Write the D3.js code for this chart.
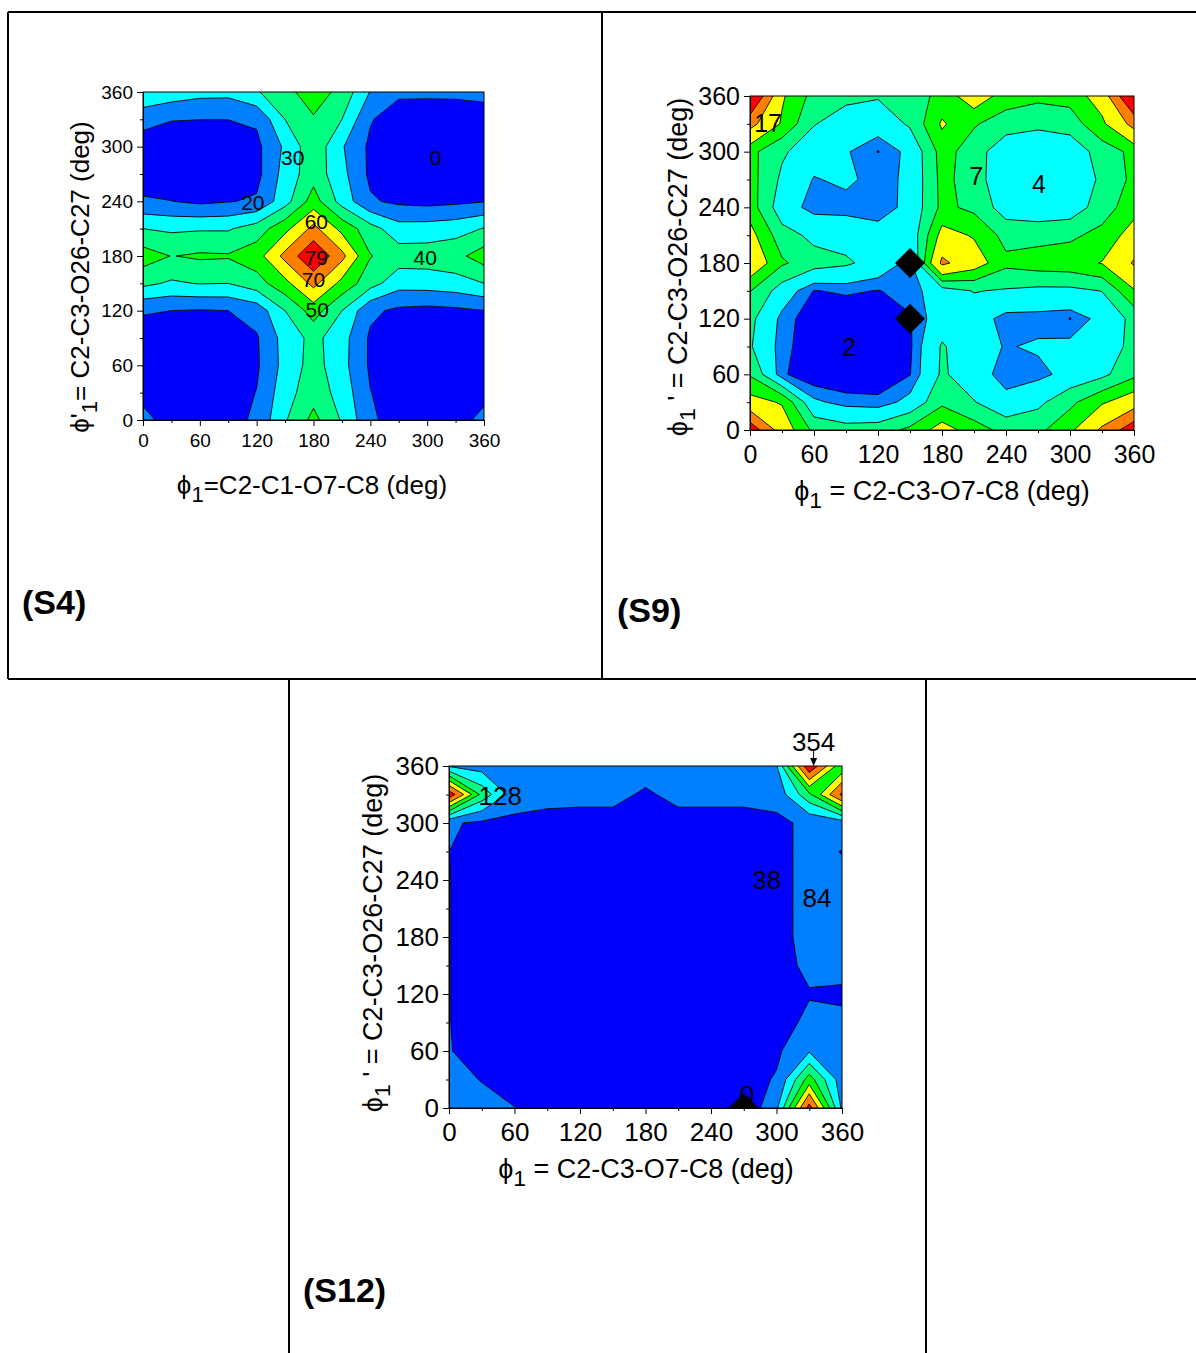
<!DOCTYPE html>
<html>
<head>
<meta charset="utf-8">
<script src="https://cdn.jsdelivr.net/npm/d3@7"></script>
<style>
  body { margin: 0; background: #fff; }
  svg { display: block; font-family: "Liberation Sans", Arial, sans-serif; }
</style>
</head>
<body>
<svg id="page" width="1196" height="1353"></svg>
<script>
//#region DATA /////////////////////////////////////////////////////////////////

// scan grid of both torsions (deg), and the axis ticks
const ANGLES = [0, 30, 60, 90, 120, 150, 180, 210, 240, 270, 300, 330, 360];
const MAJOR_TICKS = [0, 60, 120, 180, 240, 300, 360];
const MINOR_TICKS = [30, 90, 150, 210, 270, 330];

// fill colours, lowest band first (Origin rainbow)
const BAND_COLORS = ["#0000ff", "#0080ff", "#00ffff", "#00ff80",
                     "#00ff00", "#ffff00", "#ff8000", "#ff0000"];

/* Energy grids. One row per phi1' value, top row is 360,
 * bottom row is 0; columns are phi1 = 0..360. */
const S4_LEVELS = [10, 20, 30, 40, 50, 60, 70];
const S4_ROWS = [
  [27.6, 25.5, 23, 22.7, 29, 37, 45, 37, 19.5, 12, 12, 12, 13],
  [14.2, 10.5, 10.1, 10.1, 11.5, 30, 39, 30, 10.8, 4.5, 4, 4.5, 5],
  [4, 3, 3.5, 4.5, 7.5, 21.8, 37, 21, 8, 3, 0.5, 2.5, 4],
  [4, 3, 3, 4, 7, 24, 36, 23, 8, 3, 2, 3, 4],
  [11.5, 10.2, 8, 9.5, 11.2, 26, 44.6, 26, 11.2, 8, 7, 8, 9.5],
  [30, 28.3, 29, 29, 34.7, 47, 63, 47, 34, 24, 24.5, 26, 30.5],
  [45, 39.7, 41.5, 41, 45.8, 63, 79, 63, 40.5, 35, 35, 37, 45],
  [32.5, 28.6, 30.5, 30, 35.7, 47, 63, 47, 34, 24, 24.5, 26, 30],
  [11, 10, 9.3, 10, 14, 30, 44.6, 30, 12, 8, 7, 8, 9.8],
  [5, 4, 4, 4, 9, 24, 33, 24, 8.5, 3, 2.5, 3.5, 5],
  [5, 4, 3, 4, 8.5, 23.5, 34, 23.5, 8.5, 3, 2, 3, 5],
  [7, 5, 4, 5, 10.3, 26, 36, 26, 10.3, 4, 3, 4, 7],
  [13, 6, 6, 6, 12, 29, 43, 29, 12, 5, 5, 6, 13]
];
const S4_LABELS = [["30", 158, 288], ["0", 309, 288], ["20", 116, 239],
                   ["60", 183, 218], ["79", 183, 178], ["70", 180, 154],
                   ["40", 298, 178], ["50", 184, 121]];

const S9_LEVELS = [3, 4, 6, 8, 10, 13, 16];
const S9_ROWS = [
  [20, 10.3, 7.3, 6.5, 6.2, 7, 8.6, 11.5, 9, 8.5, 8.7, 11.2, 20],
  [14, 9.7, 6.1, 5, 4.6, 6.3, 10.3, 8.2, 7, 6.5, 7, 9.5, 14],
  [8.6, 6.3, 4.8, 4.1, 3.3, 4.3, 8.8, 7, 4.5, 4.2, 4.5, 7, 8.5],
  [8.8, 5.6, 3.9, 4.3, 3.5, 4.3, 8.6, 7, 4.3, 4.1, 4.3, 6.4, 8.5],
  [9, 4.8, 3.5, 3.5, 3.4, 4.4, 8.5, 7.5, 5.0, 4.6, 4.8, 7, 9.2],
  [10.8, 6.8, 5.5, 5.2, 4.6, 4.5, 10.8, 9.8, 7.3, 7.3, 7.6, 8.6, 11],
  [12, 8.3, 6.8, 6.3, 5.2, 3.5, 13.6, 11.2, 8.5, 9, 9.2, 10.1, 13.3],
  [8.1, 5.0, 2.95, 3.2, 2.95, 3.4, 5.0, 6.1, 5.8, 5.5, 5.5, 6.05, 9.8],
  [6.5, 3.6, 2.2, 2.0, 2.2, 2.9, 5.0, 4.8, 3.5, 3.5, 3.3, 4.4, 6.6],
  [6.2, 3.4, 2.2, 1.8, 2.0, 2.8, 6.2, 4.7, 3.9, 4.2, 4.3, 5.0, 6.5],
  [7.8, 3.2, 2.1, 2.0, 2.2, 2.95, 6.3, 4.8, 3.4, 3.6, 4.5, 5.5, 7.5],
  [10.8, 9.8, 4.3, 3.5, 3.3, 4.5, 7.5, 6.1, 4.5, 5.5, 7.5, 9.7, 11.5],
  [18, 11.5, 7.5, 6.8, 7.0, 8.5, 11, 9, 7.3, 7.5, 9.5, 13.5, 18]
];
const S9_LABELS = [["17", 17, 331], ["7", 212, 274], ["4", 271, 265],
                   ["2", 93, 89]];
// conformers found on the map: big diamonds, and single points
const S9_DIAMONDS = [[150, 180], [150, 120]];
const S9_POINTS = [[120, 300], [300, 120]];

const S12_LEVELS = [38, 84, 128, 170, 215, 260, 310];
const S12_ROWS = [
  [80, 65, 55, 50, 50, 50, 50, 50, 50, 50, 80, 354, 180],
  [344, 157, 60, 48, 46, 46, 34, 46, 46, 46, 55, 160, 320],
  [44, 30, 28, 28, 28, 28, 28, 28, 28, 28, 28, 48, 60],
  [38.2, 22, 18, 15, 15, 15, 15, 15, 15, 18, 28, 48, 37],
  [39, 20, 15, 12, 12, 12, 12, 12, 12, 15, 28, 48, 45],
  [39, 20, 15, 12, 10, 10, 10, 10, 12, 15, 28, 48, 45],
  [39, 20, 15, 12, 10, 10, 10, 10, 12, 15, 28, 48, 45],
  [39, 20, 15, 12, 10, 10, 10, 10, 12, 15, 26, 45, 48],
  [39, 20, 15, 12, 10, 10, 10, 10, 12, 15, 25, 36, 33],
  [39, 20, 15, 12, 10, 10, 10, 10, 12, 15, 25, 45, 45],
  [40, 22, 18, 15, 12, 12, 12, 12, 12, 15, 30, 80, 50],
  [55, 36, 20, 18, 15, 15, 15, 12, 10, 20, 42, 190, 60],
  [70, 55, 39, 30, 28, 28, 28, 25, 15, 0, 75, 330, 75]
];
const S12_LABELS = [["128", 47, 328], ["38", 291, 240], ["84", 337, 221],
                    ["0", 273, 14], ["354", 334, 385]];
const S12_DIAMONDS = [[270, 0]];
// arrow from the "354" label down to the maximum
const S12_ARROW = [[334, 376], [334, 360]];

//#endregion

//#region LAYOUT ///////////////////////////////////////////////////////////////

const PHI_X_S4 = [["\u03D5", ""], ["1", "sub"], ["=C2-C1-O7-C8 (deg)", ""]];
const PHI_Y_S4 = [["\u03D5", ""], ["'", ""], ["1", "sub"],
                  ["= C2-C3-O26-C27 (deg)", ""]];
const PHI_X = [["\u03D5", ""], ["1", "sub"], [" = C2-C3-O7-C8 (deg)", ""]];
const PHI_Y = [["\u03D5", ""], ["1", "sub"], [" ' = C2-C3-O26-C27 (deg)", ""]];

const PANELS = [
  {
    id: "s4", rows: S4_ROWS, levels: S4_LEVELS, labels: S4_LABELS,
    left: 143, right: 484, top: 92, bottom: 420,
    tickFont: 19, labelFont: 21, titleFont: 26, xPad: 8,
    xTitle: PHI_X_S4, yTitle: PHI_Y_S4,
    xTitlePos: [312, 494], yTitlePos: [89, 277],
    tag: "(S4)", tagPos: [22, 614]
  },
  {
    id: "s9", rows: S9_ROWS, levels: S9_LEVELS, labels: S9_LABELS,
    diamonds: S9_DIAMONDS, points: S9_POINTS,
    left: 750, right: 1134, top: 96, bottom: 430,
    tickFont: 25, labelFont: 25, titleFont: 27, xPad: 9,
    xTitle: PHI_X, yTitle: PHI_Y,
    xTitlePos: [942, 500], yTitlePos: [687, 267],
    tag: "(S9)", tagPos: [617, 622]
  },
  {
    id: "s12", rows: S12_ROWS, levels: S12_LEVELS, labels: S12_LABELS,
    diamonds: S12_DIAMONDS, arrow: S12_ARROW,
    left: 449, right: 842, top: 766, bottom: 1108,
    tickFont: 26, labelFont: 26, titleFont: 27, xPad: 9,
    xTitle: PHI_X, yTitle: PHI_Y,
    xTitlePos: [646, 1178], yTitlePos: [382, 943],
    tag: "(S12)", tagPos: [303, 1302]
  }
];

// table rules around the three panels
const TABLE_LINES = [
  [8, 12, 1196, 12], [8, 12, 8, 679], [602, 12, 602, 679],
  [8, 679, 1196, 679], [289, 679, 289, 1353], [926, 679, 926, 1353]
];

//#endregion

//#region DRAWING //////////////////////////////////////////////////////////////

const FONT = "'Liberation Sans', Arial, sans-serif";

/** Write a title made of plain and subscript pieces. */
function addTitle(g, parts, size)
{
  let t = g.append("text").attr("font-size", size).attr("fill", "#000");
  let shift = 0;
  for (let [str, kind] of parts)
  {
    let want = kind === "sub" ? size * 0.3 : 0;
    let s = t.append("tspan").text(str).attr("dy", want - shift);
    if (kind === "sub")
      s.attr("font-size", size * 0.85);
    shift = want;
  }
  return t;
}

function drawPanel(svg, p)
{
  let x = d3.scaleLinear().domain([0, 360]).range([p.left, p.right]);
  let y = d3.scaleLinear().domain([0, 360]).range([p.bottom, p.top]);

  // d3.contours wants the bottom row first and puts value i at i + 0.5
  let n = ANGLES.length;
  let step = ANGLES[1] - ANGLES[0];
  let values = p.rows.slice().reverse().flat();
  let toDeg = c => ANGLES[0] + (c - 0.5) * step;
  let path = d3.geoPath(d3.geoTransform({
    point: function(px, py) { this.stream.point(x(toDeg(px)), y(toDeg(py))); }
  }));

  let bands = d3.contours()
      .size([n, n])
      .thresholds([d3.min(values)].concat(p.levels))(values);

  let clipId = "clip-" + p.id;
  svg.append("clipPath").attr("id", clipId).append("rect")
      .attr("x", p.left).attr("y", p.top)
      .attr("width", p.right - p.left).attr("height", p.bottom - p.top);

  let plot = svg.append("g").attr("clip-path", "url(#" + clipId + ")");
  plot.append("g").selectAll("path").data(bands).join("path")
      .attr("d", path)
      .attr("fill", (_d, i) => BAND_COLORS[i]);
  plot.append("g").selectAll("path").data(bands.slice(1)).join("path")
      .attr("d", path)
      .attr("fill", "none")
      .attr("stroke", "#000")
      .attr("stroke-width", 0.9)
      .attr("stroke-linejoin", "round");

  // markers for the located conformers
  let diamond = d3.symbol(d3.symbolSquare, 450);
  plot.append("g").selectAll("path").data(p.diamonds || []).join("path")
      .attr("d", diamond)
      .attr("transform", d => "translate(" + x(d[0]) + "," + y(d[1]) + ") rotate(45)")
      .attr("fill", "#000");
  plot.append("g").selectAll("circle").data(p.points || []).join("circle")
      .attr("cx", d => x(d[0])).attr("cy", d => y(d[1])).attr("r", 1.3)
      .attr("fill", "#000");

  // frame
  svg.append("rect")
      .attr("x", p.left).attr("y", p.top)
      .attr("width", p.right - p.left).attr("height", p.bottom - p.top)
      .attr("fill", "none").attr("stroke", "#000").attr("stroke-width", 1);

  // axes: labelled major ticks and short minor ticks, pointing out
  let axes = svg.append("g");
  axes.append("g").attr("transform", "translate(0," + p.bottom + ")")
      .call(d3.axisBottom(x).tickValues(MAJOR_TICKS).tickSize(6)
                .tickSizeOuter(0).tickPadding(p.xPad))
      .attr("font-size", p.tickFont).attr("font-family", FONT);
  axes.append("g").attr("transform", "translate(0," + p.bottom + ")")
      .call(d3.axisBottom(x).tickValues(MINOR_TICKS).tickSize(3)
                .tickSizeOuter(0).tickFormat(""));
  axes.append("g").attr("transform", "translate(" + p.left + ",0)")
      .call(d3.axisLeft(y).tickValues(MAJOR_TICKS).tickSize(6)
                .tickSizeOuter(0).tickPadding(4))
      .attr("font-size", p.tickFont).attr("font-family", FONT);
  axes.append("g").attr("transform", "translate(" + p.left + ",0)")
      .call(d3.axisLeft(y).tickValues(MINOR_TICKS).tickSize(3)
                .tickSizeOuter(0).tickFormat(""));
  axes.selectAll(".domain").attr("stroke-width", 1);
  axes.selectAll("text").attr("fill", "#000");

  // contour / energy labels
  svg.append("g").selectAll("text").data(p.labels).join("text")
      .attr("x", d => x(d[1])).attr("y", d => y(d[2]))
      .attr("text-anchor", "middle").attr("dominant-baseline", "central")
      .attr("font-size", p.labelFont).attr("fill", "#000")
      .text(d => d[0]);

  if (p.arrow)
  {
    let a = p.arrow;
    svg.append("line")
        .attr("x1", x(a[0][0])).attr("y1", y(a[0][1]))
        .attr("x2", x(a[1][0])).attr("y2", y(a[1][1]) - 4)
        .attr("stroke", "#000").attr("stroke-width", 1);
    let tip = [x(a[1][0]), y(a[1][1])];
    svg.append("path")
        .attr("d", "M" + tip[0] + "," + tip[1] + "l-3.5,-8h7z")
        .attr("fill", "#000");
  }

  // axis titles
  addTitle(svg, p.xTitle, p.titleFont)
      .attr("x", p.xTitlePos[0]).attr("y", p.xTitlePos[1])
      .attr("text-anchor", "middle");
  addTitle(svg, p.yTitle, p.titleFont)
      .attr("text-anchor", "middle")
      .attr("transform", "translate(" + p.yTitlePos[0] + "," + p.yTitlePos[1] + ") rotate(-90)");

  svg.append("text")
      .attr("x", p.tagPos[0]).attr("y", p.tagPos[1])
      .attr("font-size", 34).attr("font-weight", "bold").attr("fill", "#000")
      .text(p.tag);
}

function render()
{
  let svg = d3.select("#page");
  svg.append("rect").attr("width", 1196).attr("height", 1353).attr("fill", "#fff");

  svg.append("g").selectAll("line").data(TABLE_LINES).join("line")
      .attr("x1", d => d[0]).attr("y1", d => d[1])
      .attr("x2", d => d[2]).attr("y2", d => d[3])
      .attr("stroke", "#000").attr("stroke-width", 2);

  for (let p of PANELS)
    drawPanel(svg, p);
}

render();

//#endregion
</script>
</body>
</html>
